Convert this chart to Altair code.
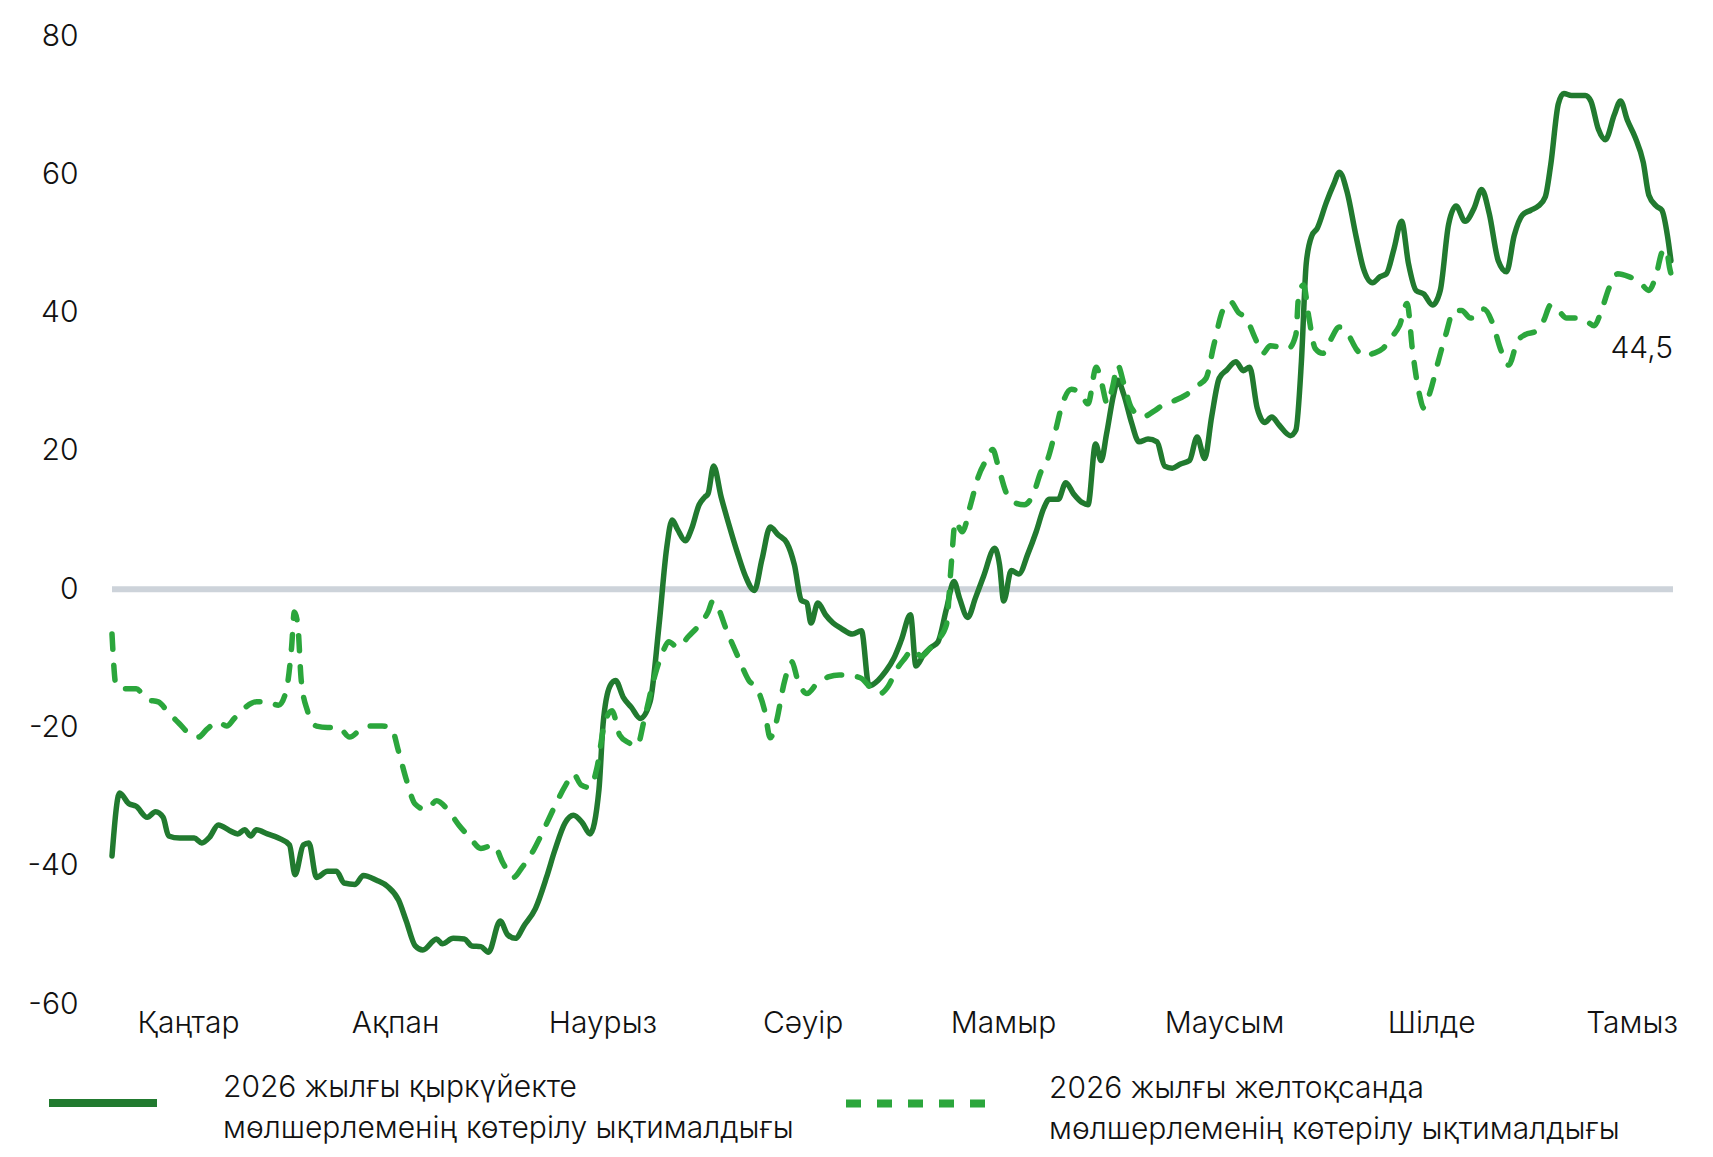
import altair as alt
import pandas as pd

# ---- data ----
start_date = "2025-01-05"
month_names = ["Қаңтар", "Ақпан", "Наурыз", "Сәуір", "Мамыр", "Маусым", "Шілде", "Тамыз"]
label_sep = "2026 жылғы қыркүйекте|мөлшерлеменің көтерілу ықтималдығы"
label_dec = "2026 жылғы желтоқсанда|мөлшерлеменің көтерілу ықтималдығы"

# days since start_date, and probability values (%)
sep_day = [
    0.0, 1.1, 2.4, 3.5, 5.1, 6.3, 7.4, 8.2, 9.8, 11.9,
    13.0, 14.1, 15.4, 17.0, 18.2, 19.2, 20.1, 20.9, 22.5, 24.1,
    25.7, 26.5, 27.7, 28.5, 29.6, 31.2, 32.5, 33.6, 35.2, 36.4,
    38.3, 39.9, 41.5, 42.6, 43.9, 45.0, 47.0, 47.8, 49.4, 51.0,
    52.1, 53.4, 54.5, 56.2, 57.3, 58.4, 59.7, 61.3, 62.9, 64.1,
    65.6, 66.8, 68.1, 69.2, 70.5, 71.1, 72.1, 72.9, 74.0, 75.2,
    76.5, 77.9, 79.2, 80.3, 81.1, 81.9, 83.0, 83.9, 85.0, 85.8,
    86.3, 87.1, 88.2, 89.3, 90.6, 91.7, 93.0, 94.1, 95.3, 96.4,
    97.7, 98.8, 99.8, 100.6, 101.2, 102.2, 103.3, 104.4, 105.6, 107.2,
    108.5, 109.6, 110.9, 112.0, 113.2, 114.3, 115.6, 116.4, 117.5, 118.6,
    119.6, 120.8, 121.9, 122.7, 123.9, 125.0, 126.2, 127.8, 128.5, 129.1,
    130.2, 131.3, 132.6, 133.8, 134.9, 135.7, 137.0, 138.1, 139.2, 140.5,
    141.3, 142.4, 143.2, 144.0, 145.0, 145.6, 146.5, 147.6, 148.7, 150.0,
    151.3, 152.4, 153.5, 154.7, 156.0, 157.1, 158.2, 159.2, 160.3, 161.4,
    162.7, 163.8, 164.7, 165.8, 166.9, 167.9, 169.0, 170.6, 171.4, 172.2,
    172.9, 173.7, 174.5, 175.8, 176.9, 177.7, 178.8, 180.1, 181.2, 182.5,
    183.6, 184.5, 185.6, 186.7, 187.7, 188.8, 189.9, 191.2, 192.3, 193.5,
    194.6, 195.9, 197.2, 198.3, 199.4, 200.7, 201.9, 203.0, 204.2, 205.4,
    206.5, 207.5, 208.3, 209.4, 210.2, 211.3, 213.3, 214.1, 215.2, 216.2,
    217.5, 218.4, 219.4, 220.5, 221.7, 222.5, 223.6, 224.4, 225.2, 225.7,
]
sep_vals = [
    -38.6, -29.5, -31.0, -31.4, -33.0, -32.2, -33.0, -35.7, -36.0, -36.0,
    -36.7, -35.9, -34.1, -34.9, -35.4, -34.8, -35.7, -34.8, -35.4, -36.0,
    -37.0, -41.3, -37.0, -36.7, -41.7, -40.8, -40.8, -42.5, -42.7, -41.4,
    -42.1, -43.0, -45.0, -48.0, -51.6, -52.2, -50.6, -51.3, -50.5, -50.6,
    -51.6, -51.7, -52.5, -48.0, -50.0, -50.5, -48.6, -46.2, -41.7, -37.8,
    -33.8, -32.7, -33.8, -35.4, -29.0, -19.5, -14.0, -13.2, -15.6, -17.1,
    -18.7, -16.3, -5.2, 5.9, 10.0, 8.6, 7.0, 8.7, 12.2, 13.3,
    13.8, 17.8, 13.3, 9.4, 5.1, 1.9, -0.2, 4.3, 9.0, 7.9,
    6.7, 3.5, -1.6, -2.0, -4.9, -2.0, -3.7, -4.9, -5.7, -6.5,
    -6.0, -14.0, -13.2, -11.9, -10.0, -7.3, -3.7, -11.1, -9.5, -8.4,
    -7.6, -2.9, 1.1, -1.3, -4.1, -1.3, 1.9, 5.9, 3.5, -1.7,
    2.7, 2.2, 5.1, 8.3, 11.7, 13.0, 13.0, 15.4, 13.8, 12.5,
    12.2, 21.0, 18.6, 22.5, 28.1, 30.2, 28.1, 24.1, 21.3, 21.7,
    21.3, 17.8, 17.5, 18.1, 18.6, 22.0, 18.9, 24.9, 30.5, 31.7,
    32.9, 31.6, 32.1, 26.2, 24.1, 24.9, 23.7, 22.2, 23.0, 32.9,
    47.1, 51.1, 52.2, 55.9, 58.6, 60.3, 57.5, 51.1, 46.3, 44.3,
    45.2, 45.6, 49.2, 53.2, 47.1, 43.2, 42.7, 41.1, 43.2, 52.7,
    55.4, 53.2, 55.1, 57.8, 54.3, 47.5, 45.9, 51.1, 54.1, 54.8,
    55.4, 56.7, 61.4, 70.2, 71.7, 71.4, 71.4, 70.6, 66.5, 65.0,
    68.6, 70.6, 67.8, 65.4, 61.7, 57.0, 55.4, 54.8, 51.1, 47.5,
]

dec_day = [
    0.0, 0.6, 1.9, 3.5, 5.1, 6.7, 8.2, 9.8, 11.4, 12.5,
    13.8, 15.4, 16.6, 17.7, 19.3, 20.9, 22.5, 24.1, 25.2, 26.0,
    26.4, 26.9, 27.4, 28.3, 29.6, 31.2, 32.8, 34.4, 36.0, 37.5,
    39.1, 40.4, 41.5, 42.6, 43.9, 45.5, 47.0, 48.6, 50.2, 51.8,
    53.4, 55.3, 56.5, 58.1, 59.4, 61.0, 62.6, 64.1, 65.7, 66.8,
    67.9, 69.2, 70.2, 71.3, 72.4, 73.5, 74.8, 76.0, 77.1, 78.4,
    79.7, 80.6, 81.9, 83.5, 85.0, 86.3, 87.0, 87.6, 89.0, 90.6,
    92.2, 93.4, 94.5, 95.3, 96.1, 97.4, 98.4, 99.3, 100.6, 102.2,
    103.7, 105.3, 106.9, 108.5, 109.6, 111.2, 112.4, 113.6, 114.8, 115.9,
    117.2, 118.3, 119.6, 120.8, 121.5, 122.1, 123.1, 124.3, 125.4, 126.7,
    127.5, 128.3, 129.4, 130.7, 132.1, 133.4, 134.5, 135.4, 136.5, 137.6,
    138.9, 140.2, 141.3, 142.5, 143.3, 144.1, 144.9, 145.6, 146.5, 147.6,
    149.2, 150.8, 152.4, 153.9, 155.5, 157.1, 158.4, 159.5, 160.8, 161.9,
    163.1, 164.2, 165.5, 166.6, 167.7, 169.0, 170.3, 171.4, 171.8, 172.5,
    173.3, 174.2, 175.3, 176.4, 177.7, 179.0, 180.1, 181.3, 182.6, 184.0,
    185.3, 186.4, 187.5, 188.3, 189.3, 189.9, 190.8, 192.0, 193.1, 194.3,
    195.4, 196.7, 197.8, 198.6, 199.9, 201.0, 202.2, 203.5, 204.6, 206.2,
    207.3, 208.3, 209.4, 210.6, 212.1, 213.3, 214.6, 215.7, 216.8, 218.0,
    219.6, 221.2, 222.5, 223.6, 224.4, 225.0, 225.5, 226.0,
]
dec_vals = [
    -6.5, -14.0, -14.4, -14.4, -16.0, -16.3, -17.9, -19.5, -21.1, -21.4,
    -20.2, -19.2, -19.8, -18.7, -17.1, -16.3, -16.3, -16.8, -14.8, -8.4,
    -3.3, -5.2, -13.2, -17.6, -19.8, -20.0, -20.0, -21.4, -20.3, -19.8,
    -19.8, -20.0, -23.5, -27.5, -31.1, -31.9, -30.6, -31.9, -34.1, -35.9,
    -37.5, -37.0, -39.4, -41.7, -40.2, -37.8, -34.6, -31.4, -28.3, -26.7,
    -28.3, -28.7, -25.9, -19.5, -17.6, -21.1, -22.2, -22.7, -18.7, -13.2,
    -9.2, -7.6, -8.4, -6.8, -5.2, -3.3, -1.7, -2.4, -6.0, -9.7,
    -13.2, -14.4, -17.6, -21.5, -19.5, -13.2, -10.5, -13.2, -15.1, -13.5,
    -12.7, -12.4, -12.5, -12.9, -14.0, -15.1, -14.0, -11.6, -10.0, -8.7,
    -9.7, -8.7, -7.3, -5.2, 3.5, 9.8, 8.3, 12.2, 16.2, 18.9,
    20.2, 17.8, 14.1, 12.5, 12.2, 13.8, 17.0, 18.6, 22.5, 26.8,
    28.9, 28.4, 26.8, 32.1, 29.7, 26.8, 29.4, 32.4, 29.7, 26.2,
    24.9, 25.7, 26.8, 27.3, 28.1, 29.4, 30.5, 35.2, 40.3, 41.6,
    40.0, 39.2, 36.3, 34.1, 35.2, 35.0, 34.8, 36.8, 42.4, 44.0,
    39.2, 34.8, 34.1, 36.0, 37.9, 36.8, 34.8, 33.7, 34.1, 34.8,
    36.5, 38.1, 41.3, 34.4, 28.1, 26.2, 28.4, 32.9, 36.8, 40.3,
    40.3, 39.2, 39.5, 40.5, 38.4, 34.8, 32.4, 35.9, 36.8, 37.3,
    38.9, 41.1, 40.3, 39.2, 39.2, 38.9, 38.1, 40.5, 43.7, 45.6,
    45.2, 44.4, 43.2, 45.6, 48.7, 49.2, 46.5, 44.5,
]

# ---- tables ----
base = pd.Timestamp(start_date)
df_sep = pd.DataFrame({
    "date": base + pd.to_timedelta(sep_day, unit="D"),
    "value": sep_vals,
    "series": label_sep,
})
df_dec = pd.DataFrame({
    "date": base + pd.to_timedelta(dec_day, unit="D"),
    "value": dec_vals,
    "series": label_dec,
})
df_last = df_dec.tail(1).copy()
df_zero = pd.DataFrame({"value": [0]})

SOLID = "#217a2f"
DASHED = "#2ba63c"
TEXT = "#111111"
FONT = "Inter"

month_arr = "[" + ",".join("'" + m + "'" for m in month_names) + "]"
tick_dates = [
    alt.DateTime(year=2025, month=1, date=16),
    alt.DateTime(year=2025, month=2, date=15),
    alt.DateTime(year=2025, month=3, date=17),
    alt.DateTime(year=2025, month=4, date=15),
    alt.DateTime(year=2025, month=5, date=14),
    alt.DateTime(year=2025, month=6, date=15),
    alt.DateTime(year=2025, month=7, date=15),
    alt.DateTime(year=2025, month=8, date=13),
]

x_enc = alt.X(
    "date:T",
    scale=alt.Scale(domain=[alt.DateTime(year=2025, month=1, date=5),
                            alt.DateTime(year=2025, month=8, date=19)]),
    axis=alt.Axis(
        title=None, values=tick_dates, labelExpr=month_arr + "[month(datum.value)]",
        domain=False, ticks=False, grid=False, labelFont=FONT, labelFontSize=30,
        labelFontWeight=300, labelColor=TEXT, labelPadding=4, labelAlign="center",
        labelOverlap=False,
    ),
)
y_enc = alt.Y(
    "value:Q",
    scale=alt.Scale(domain=[-60, 80], nice=False, zero=False),
    axis=alt.Axis(
        title=None, values=[-60, -40, -20, 0, 20, 40, 60, 80],
        labelExpr="toString(datum.value)", domain=False, ticks=False, grid=False,
        labelFont=FONT, labelFontSize=30, labelFontWeight=300, labelColor=TEXT,
        labelPadding=34,
    ),
)

legend_common = dict(
    title=None, orient="none", symbolType="stroke", symbolStrokeWidth=8,
    labelFont=FONT, labelFontSize=30, labelFontWeight=300, labelColor=TEXT,
    labelLimit=1000, labelBaseline="bottom",
    labelExpr="split(datum.label, '|')", padding=0,
)

zero = alt.Chart(df_zero).mark_rule(color="#cdd3da", strokeWidth=6).encode(y="value:Q")

solid = alt.Chart(df_sep).mark_line(strokeWidth=5.5, interpolate="monotone",
                                    strokeCap="round", strokeJoin="round").encode(
    x=x_enc, y=y_enc,
    color=alt.Color("series:N", scale=alt.Scale(domain=[label_sep], range=[SOLID]),
                    legend=alt.Legend(legendX=-67, legendY=1009, symbolSize=108 * 108,
                                      labelOffset=62, **legend_common)),
)

dashed = alt.Chart(df_dec).mark_line(strokeWidth=5.5, interpolate="monotone",
                                     strokeCap="round", strokeJoin="round",
                                     color=DASHED).encode(
    x=x_enc, y=y_enc,
    strokeDash=alt.StrokeDash("series:N", scale=alt.Scale(domain=[label_dec], range=[[15, 16]]),
                              legend=alt.Legend(legendX=730, legendY=992, symbolSize=143 * 143,
                                                labelOffset=56, symbolStrokeColor=DASHED,
                                                symbolDash=[23, 10], **legend_common)),
)

last_label = alt.Chart(df_last).transform_calculate(
    txt="replace(format(datum.value, '.1f'), '.', ',')"
).mark_text(align="right", baseline="middle", dy=68, font=FONT, fontSize=30,
            fontWeight=300, color=TEXT).encode(x="date:T", y="value:Q", text="txt:N")

chart = alt.layer(zero, solid, dashed, last_label).resolve_scale(
    color="independent", strokeDash="independent"
).properties(
    width=1561, height=968,
    padding={"left": 104, "top": 28, "right": 28, "bottom": 145},
    autosize=alt.AutoSizeParams(type="none"),
    background="white",
).configure(
    style={"guide-label": {"lineHeight": 41}}
).configure_view(stroke=None)

chart.save("out.html", embed_options={"renderer": "svg", "actions": False})
